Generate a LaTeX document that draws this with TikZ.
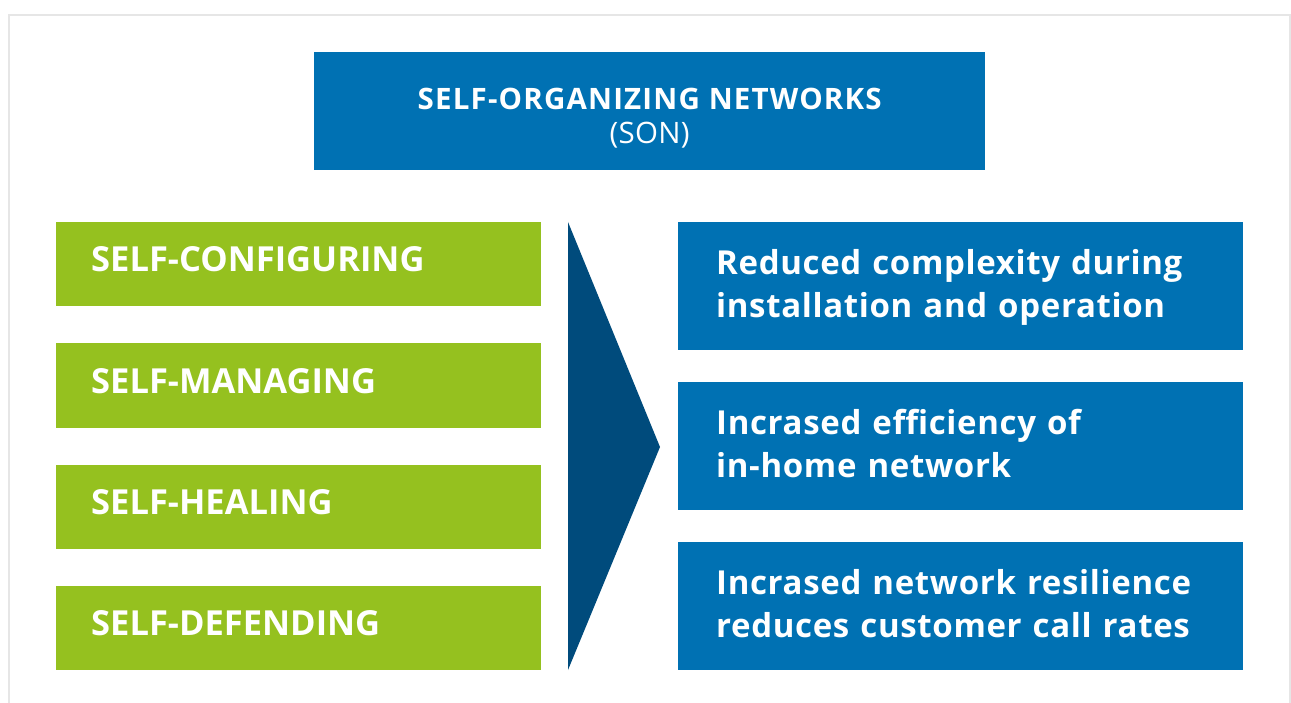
\documentclass[tikz,border=0pt]{standalone}
\usepackage{fontspec}
\setmainfont{Open Sans}
\definecolor{sonblue}{HTML}{0071B3}
\definecolor{songreen}{HTML}{95C11F}
\definecolor{sondark}{HTML}{004B7C}
\definecolor{framegray}{HTML}{E6E6E6}
\newcommand\topstrut[1]{\rule{0pt}{#1}}
\newcommand\botstrut[1]{\rule[-#1]{0pt}{#1}}
\begin{document}
\begin{tikzpicture}[x=1pt,y=-1pt,
  titlebox/.style={fill=sonblue, text=white, anchor=north west, minimum width=671pt, minimum height=118pt,
    inner sep=0pt, align=center, font=\fontsize{29.5}{34}\selectfont},
  lbox/.style={fill=songreen, text=white, anchor=north west, minimum width=485pt, minimum height=84pt,
    inner xsep=35pt, inner ysep=0pt, text width=415pt, align=left, text height=25pt, text depth=10pt,
    font=\fontsize{34.5}{40}\selectfont\bfseries},
  rbox/.style={fill=sonblue, text=white, anchor=north west, minimum width=565pt, minimum height=128pt,
    inner xsep=38pt, inner ysep=0pt, text width=489pt, align=left,
    font=\fontsize{33}{43}\selectfont\bfseries\addfontfeatures{LetterSpace=2}},
  arrowfill/.style={fill=sondark, draw=none}
]
\useasboundingbox (0,0) rectangle (1291,703);
\fill[white] (0,0) rectangle (1291,703);
\draw[framegray, line width=2pt] (9,720) -- (9,15) -- (1290,15) -- (1290,720);

\node[titlebox] (son) at (314,52) {{\bfseries\addfontfeatures{LetterSpace=4}\topstrut{37pt}SELF-ORGANIZING NETWORKS}\\{\addfontfeatures{LetterSpace=1}(SON)}\botstrut{7pt}};

\node[lbox] (conf) at (56,222) {SELF-CONFIGURING};
\node[lbox] (man) at (56,343.3) {SELF-MANAGING};
\node[lbox] (heal) at (56,464.7) {SELF-HEALING};
\node[lbox] (def) at (56,586) {SELF-DEFENDING};

\coordinate (atop) at (568,222);
\coordinate (atip) at (660,447);
\coordinate (abot) at (568,670);
\fill[arrowfill] (atop) -- (atip) -- (abot) -- cycle;

\node[rbox] (red) at (678,222) {\topstrut{27pt}Reduced complexity during\\installation and operation\botstrut{8pt}};
\node[rbox] (eff) at (678,382) {\topstrut{27pt}Incrased efficiency of\\in-home network\botstrut{8pt}};
\node[rbox] (res) at (678,542) {\topstrut{27pt}Incrased network resilience\\reduces customer call rates\botstrut{8pt}};
\end{tikzpicture}
\end{document}
